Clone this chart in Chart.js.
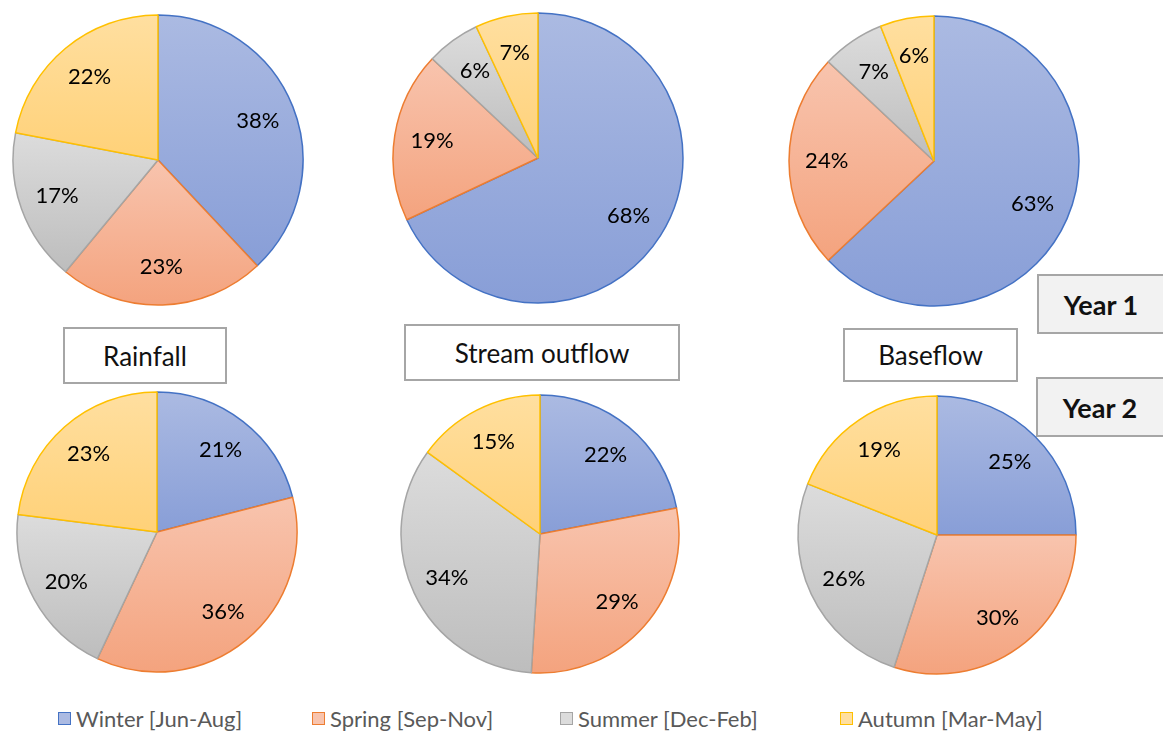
<!DOCTYPE html>
<html>
<head>
<meta charset="utf-8">
<title>Seasonal shares</title>
<script src="https://cdn.jsdelivr.net/npm/chart.js@4.4.1/dist/chart.umd.min.js"></script>
<style>
  body { margin: 0; background: #fff; font-family: Lato, "Open Sans", sans-serif; }
  #page { position: relative; width: 1163px; height: 731px; overflow: hidden; }
  .pie { position: absolute; }
  .box {
    position: absolute; box-sizing: border-box;
    border: 2px solid #a6a6a6; background: #fff;
    display: flex; align-items: center; justify-content: center;
    font-size: 26px; color: #111;
  }
  .year { background: #f2f2f2; font-weight: bold; font-size: 27px; padding-right: 12px; }
  .legend-item { position: absolute; top: 705px; display: flex; align-items: center; font-size: 22px; color: #595959; white-space: nowrap; }
  .legend-item i { display: inline-block; width: 11px; height: 11px; margin-right: 5px; border: 1px solid; }
</style>
</head>
<body>
<div id="page">
  <div class="box" style="left:63px;top:327px;width:164px;height:57px">Rainfall</div>
  <div class="box" style="left:404px;top:324px;width:276px;height:57px">Stream outflow</div>
  <div class="box" style="left:843px;top:328px;width:175px;height:54px">Baseflow</div>
  <div class="box year" style="left:1037px;top:274px;width:140px;height:60px">Year 1</div>
  <div class="box year" style="left:1036px;top:377px;width:140px;height:60px">Year 2</div>
</div>
<script>
const seasons = ['Winter [Jun-Aug]', 'Spring [Sep-Nov]', 'Summer [Dec-Feb]', 'Autumn [Mar-May]'];

// percent of annual total per season
const rainfallYear1 = [38, 23, 17, 22];
const streamYear1 = [68, 19, 6, 7];
const baseflowYear1 = [63, 24, 7, 6];
const rainfallYear2 = [21, 36, 20, 23];
const streamYear2 = [22, 29, 34, 15];
const baseflowYear2 = [25, 30, 26, 19];

// light -> dark gradient per season, plus outline
const fills = [
  ['#abbae2', '#889ed7'],
  ['#f8c4ae', '#f4a37e'],
  ['#dcdcdc', '#bdbdbd'],
  ['#ffdfa0', '#ffd178']
];
const outlines = ['#4472c4', '#ed7d31', '#a5a5a5', '#ffc000'];

const pies = [
  { data: rainfallYear1, cx: 157.5, cy: 160, r: 145 },
  { data: streamYear1, cx: 538, cy: 158, r: 145 },
  { data: baseflowYear1, cx: 933.5, cy: 161, r: 145 },
  { data: rainfallYear2, cx: 157, cy: 532, r: 140 },
  { data: streamYear2, cx: 540, cy: 534, r: 139 },
  { data: baseflowYear2, cx: 937, cy: 535, r: 139 }
];

// vertical gradient spanning each slice's own bounding box
const sliceGradient = {
  id: 'sliceGradient',
  beforeDatasetDraw(chart, args) {
    const ctx = chart.ctx;
    args.meta.data.forEach((arc, i) => {
      const { x, y, startAngle, endAngle, outerRadius } = arc;
      let top = y, bottom = y;
      [startAngle, endAngle].forEach(a => {
        const py = y + Math.sin(a) * outerRadius;
        top = Math.min(top, py);
        bottom = Math.max(bottom, py);
      });
      const covers = t => {
        for (let k = -2; k <= 2; k++) {
          const v = t + 2 * Math.PI * k;
          if (v >= startAngle && v <= endAngle) return true;
        }
        return false;
      };
      if (covers(-Math.PI / 2)) top = y - outerRadius;
      if (covers(Math.PI / 2)) bottom = y + outerRadius;
      const g = ctx.createLinearGradient(0, top, 0, bottom);
      g.addColorStop(0, fills[i][0]);
      g.addColorStop(1, fills[i][1]);
      arc.options = Object.assign({}, arc.options, { backgroundColor: g });
    });
  }
};

// percentage labels inside each slice
const sliceLabels = {
  id: 'sliceLabels',
  afterDatasetsDraw(chart) {
    const ctx = chart.ctx;
    const meta = chart.getDatasetMeta(0);
    const values = chart.data.datasets[0].data;
    ctx.save();
    ctx.font = '22px Lato, "Open Sans", sans-serif';
    ctx.fillStyle = '#000';
    ctx.textAlign = 'center';
    ctx.textBaseline = 'middle';
    meta.data.forEach((arc, i) => {
      const mid = (arc.startAngle + arc.endAngle) / 2;
      const d = arc.outerRadius * 0.74;
      ctx.fillText(values[i] + '%', arc.x + Math.cos(mid) * d, arc.y + Math.sin(mid) * d);
    });
    ctx.restore();
  }
};

const page = document.getElementById('page');

pies.forEach(p => {
  const size = Math.ceil(p.r * 2 + 6);
  const holder = document.createElement('div');
  holder.className = 'pie';
  holder.style.left = (p.cx - size / 2) + 'px';
  holder.style.top = (p.cy - size / 2) + 'px';
  holder.style.width = size + 'px';
  holder.style.height = size + 'px';
  const canvas = document.createElement('canvas');
  canvas.width = size;
  canvas.height = size;
  holder.appendChild(canvas);
  page.insertBefore(holder, page.firstChild);

  new Chart(canvas.getContext('2d'), {
    type: 'pie',
    data: {
      labels: seasons,
      datasets: [{
        data: p.data,
        backgroundColor: fills.map(f => f[1]),
        borderColor: outlines,
        borderWidth: 1.5
      }]
    },
    options: {
      responsive: false,
      animation: false,
      radius: p.r,
      layout: { padding: 0 },
      plugins: {
        legend: { display: false },
        tooltip: { enabled: false }
      }
    },
    plugins: [sliceGradient, sliceLabels]
  });
});

// legend row along the bottom
const legendX = [58, 312, 560, 840];
seasons.forEach((name, i) => {
  const item = document.createElement('div');
  item.className = 'legend-item';
  item.style.left = legendX[i] + 'px';
  const swatch = document.createElement('i');
  swatch.style.background = fills[i][0];
  swatch.style.borderColor = outlines[i];
  item.appendChild(swatch);
  item.appendChild(document.createTextNode(name));
  page.appendChild(item);
});
</script>
</body>
</html>
